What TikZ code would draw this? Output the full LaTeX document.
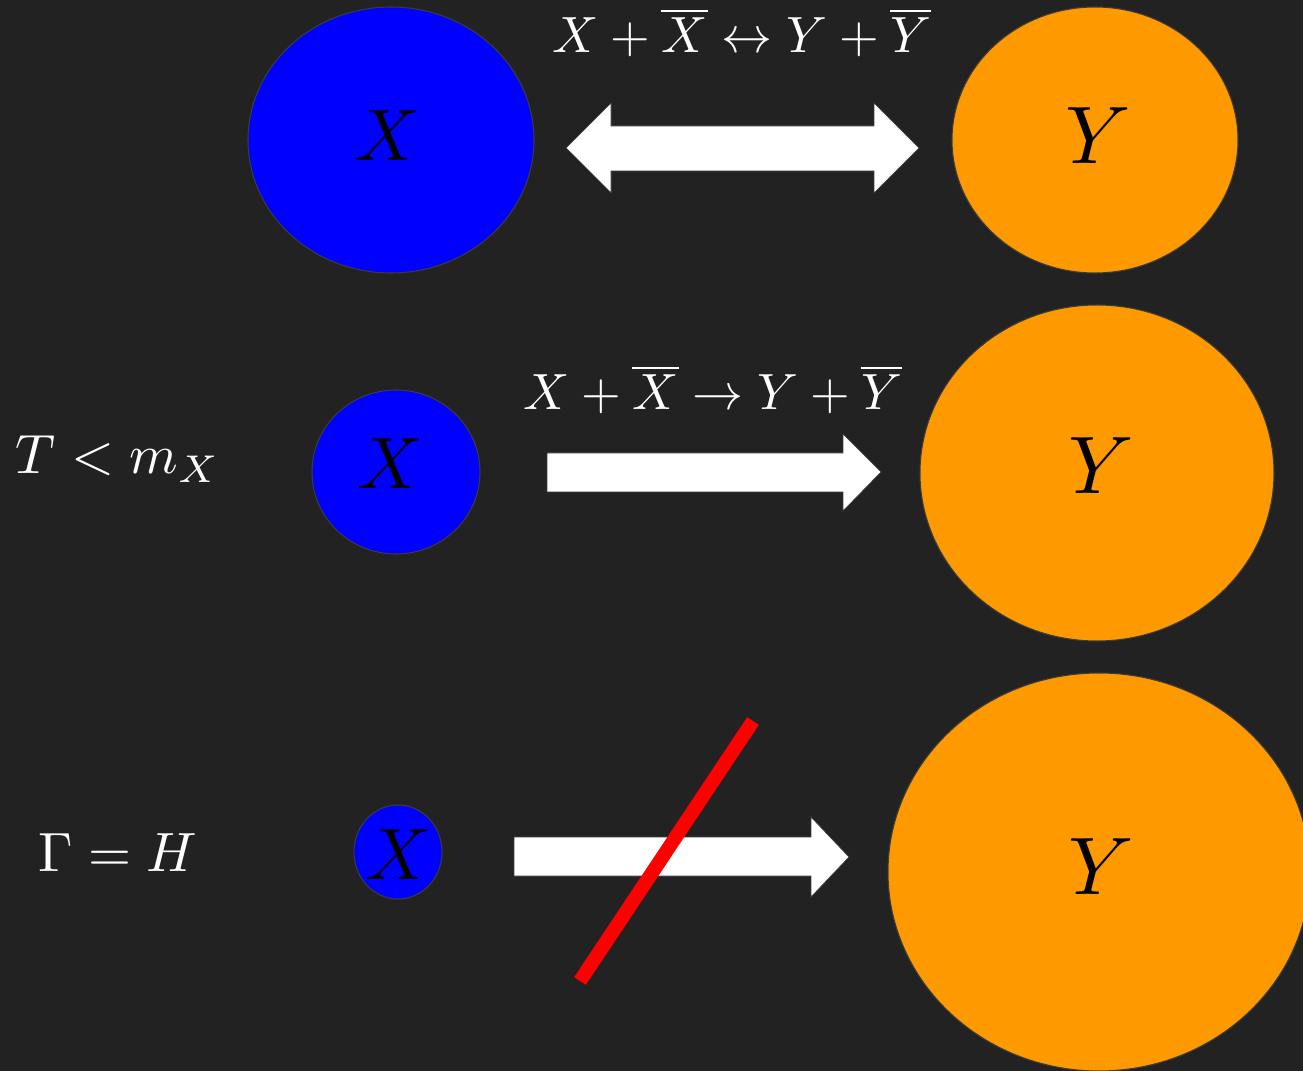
\documentclass[tikz,border=0pt]{standalone}
\begin{document}
\begin{tikzpicture}[x=0.02cm,y=-0.02cm,
  bgc/.style={fill={rgb,255:red,34;green,34;blue,34}},
  ball/.style={draw={rgb,255:red,60;green,60;blue,60},line width=0.6pt},
  bluefill/.style={fill={rgb,255:red,0;green,0;blue,255}},
  orangefill/.style={fill={rgb,255:red,255;green,153;blue,0}},
  bigx/.style={scale=4.15,text=black,anchor=base},
  bigy/.style={scale=4.65,text=black,anchor=base},
  lab/.style={scale=2.9,text=white,anchor=base},
  sidelab/.style={scale=3.15,text=white,anchor=base},
  blockarrow/.style={fill=white,draw={rgb,255:red,60;green,60;blue,60},line width=0.4pt},
  veto/.style={draw={rgb,255:red,255;green,0;blue,0},line width=0.28cm}
]
\useasboundingbox (0,0) rectangle (1303,1071);
\fill[bgc] (0,0) rectangle (1303,1071);
\begin{scope}
\clip (0,0) rectangle (1303,1071);
% row 1
\draw[ball,bluefill] (391,140) ellipse [x radius=143, y radius=133];
\draw[ball,orangefill] (1095,140) ellipse [x radius=143, y radius=133];
% row 2
\draw[ball,bluefill] (396,472) ellipse [x radius=84, y radius=82];
\draw[ball,orangefill] (1097,473) ellipse [x radius=177, y radius=168];
% row 3
\draw[ball,bluefill] (398,852) ellipse [x radius=44, y radius=47];
\draw[ball,orangefill] (1099,872) ellipse [x radius=211, y radius=199];
\end{scope}
% letters
\node[bigx] (x1) at (388,161) {$X$};
\node[bigy] (y1) at (1098,164) {$Y$};
\node[bigx] (x2) at (391,489) {$X$};
\node[bigy] (y2) at (1101,494) {$Y$};
\node[bigx] (x3) at (399,879) {$X$};
\node[bigy] (y3) at (1101,894) {$Y$};
% labels
\node[lab] (l1) at (742,53) {$X+\overline{X}\leftrightarrow Y+\overline{Y}$};
\node[lab] (l2) at (713,410) {$X+\overline{X}\rightarrow Y+\overline{Y}$};
\node[sidelab] (t) at (118,474) {$T<m_X$};
\node[sidelab] (g) at (118,871) {$\Gamma=H$};
% arrows
\draw[blockarrow] (566,148) -- (611,103) -- (611,126) -- (874,126) -- (874,103) -- (919,148)
  -- (874,193) -- (874,171) -- (611,171) -- (611,193) -- cycle;
\draw[blockarrow] (547,453) -- (843,453) -- (843,434) -- (881,472) -- (843,511) -- (843,492) -- (547,492) -- cycle;
\draw[blockarrow] (514,837) -- (811,837) -- (811,817) -- (849,857) -- (811,897) -- (811,876) -- (514,876) -- cycle;
\coordinate (va) at (580,981);
\coordinate (vb) at (753,721);
\draw[veto] (va) -- (vb);
\end{tikzpicture}
\end{document}
